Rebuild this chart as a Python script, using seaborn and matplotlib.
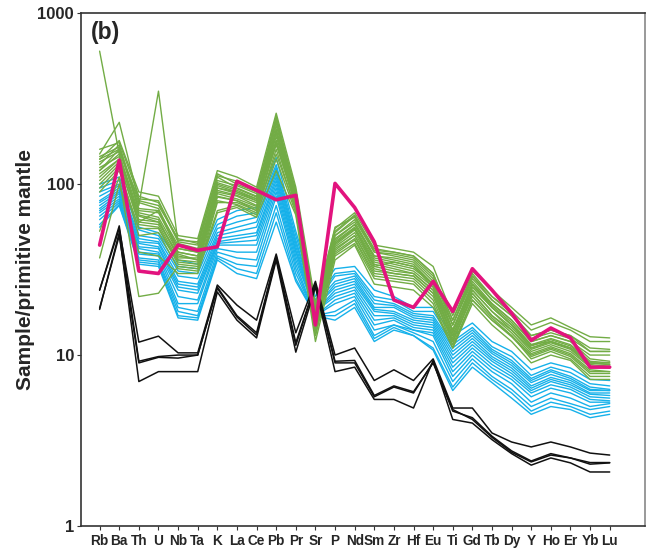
import matplotlib
matplotlib.use("Agg")
import matplotlib.pyplot as plt
import seaborn as sns
import pandas as pd
from matplotlib.ticker import FixedLocator, NullLocator

elements = ["Rb", "Ba", "Th", "U", "Nb", "Ta", "K", "La", "Ce", "Pb", "Pr", "Sr", "P", "Nd",
            "Sm", "Zr", "Hf", "Eu", "Ti", "Gd", "Tb", "Dy", "Y", "Ho", "Er", "Yb", "Lu"]

# blue group samples
blue_samples = [
    [100, 110, 56, 52, 36, 34, 62, 70, 73, 143, 53, 22, 32, 33, 24, 22, 19, 19, 13, 15.4, 12, 10.5, 8.2, 9.0, 8.4, 7.2, 7.1],
    [95, 105, 54, 50, 33, 32, 58, 65, 68, 130, 50, 21, 30, 31, 22, 21, 18, 18, 12, 14.5, 11.2, 9.8, 7.6, 8.5, 7.9, 6.8, 6.6],
    [90, 100, 50, 48, 31, 30, 55, 60, 64, 125, 47, 20, 29, 30, 21, 20, 17.5, 17, 11.5, 14, 10.8, 9.3, 7.3, 8.2, 7.5, 6.5, 6.3],
    [85, 98, 48, 46, 29, 28, 52, 56, 60, 120, 45, 20, 27, 29, 20, 19.5, 17, 16.5, 11, 13.5, 10.5, 9.0, 7.1, 8.0, 7.3, 6.3, 6.2],
    [80, 95, 46, 45, 27, 26, 50, 53, 56, 115, 43, 19, 26, 28, 19, 19, 16.5, 16, 10.5, 13, 10.2, 8.7, 6.9, 7.7, 7.1, 6.2, 6.2],
    [78, 92, 45, 43, 26, 25, 48, 50, 52, 110, 41, 19, 25, 27, 18.5, 18, 16, 15.5, 10, 12.5, 9.8, 8.4, 6.6, 7.4, 6.9, 6.0, 6.0],
    [75, 90, 43, 42, 25, 24, 46, 48, 50, 105, 40, 18, 24, 26, 18, 17.5, 15.5, 15, 9.5, 12, 9.5, 8.1, 6.4, 7.2, 6.7, 5.9, 5.8],
    [72, 88, 42, 40, 24, 23, 45, 46, 47, 100, 38, 18, 23, 25, 17, 17, 15, 14.5, 9.0, 11.5, 9.2, 7.8, 6.2, 7.0, 6.5, 5.7, 5.6],
    [70, 85, 40, 39, 22, 21, 44, 44, 44, 95, 36, 18, 22, 24, 16, 16.5, 14.5, 14, 8.5, 11, 8.8, 7.5, 6.0, 6.7, 6.3, 5.5, 5.4],
    [68, 82, 39, 38, 20, 20, 42, 40, 40, 90, 34, 17, 21, 23, 15, 16, 14, 13.5, 8.0, 10.5, 8.4, 7.2, 5.7, 6.4, 6.0, 5.3, 5.3],
    [65, 80, 37, 36, 19, 18, 40, 37, 36, 85, 32, 17, 20, 22, 14, 15, 14, 13, 7.5, 10, 8.0, 6.8, 5.3, 6.0, 5.6, 5.0, 5.2],
    [62, 78, 36, 35, 18, 17, 38, 34, 33, 75, 30, 17, 18, 21, 13, 15, 13.5, 12, 7.0, 9.5, 7.5, 6.3, 5.0, 5.6, 5.2, 4.8, 5.0],
    [58, 76, 35, 34, 17, 16.5, 37, 32, 30, 68, 28, 17, 17, 20, 12.5, 14.5, 13, 11, 6.5, 9.0, 7.2, 6.0, 4.7, 5.3, 5.0, 4.5, 4.7],
    [56, 75, 34, 33, 16.5, 16, 36, 30, 28, 60, 27, 17, 16, 19, 12, 14, 13, 10.7, 6.2, 8.5, 6.9, 5.6, 4.5, 5.0, 4.8, 4.3, 4.5],
]

# green group samples
green_samples = [
    [600, 150, 60, 70, 40, 38, 95, 90, 80, 180, 80, 18, 45, 55, 33, 35, 33, 25, 14, 25, 19, 15, 11, 12, 11, 9.0, 8.8],
    [120, 160, 75, 350, 45, 42, 110, 95, 85, 200, 82, 17, 50, 60, 38, 36, 34, 26, 15, 27, 20, 16, 12, 13, 12, 9.5, 9.2],
    [140, 180, 90, 85, 50, 48, 120, 110, 96, 260, 96, 20, 55, 68, 44, 42, 40, 33, 17, 31, 24, 19, 15, 16.5, 14.5, 12.8, 12.6],
    [150, 230, 80, 75, 48, 45, 115, 100, 90, 240, 90, 19, 52, 65, 42, 40, 38, 30, 16, 30, 22, 18, 14, 15.5, 14, 12, 12],
    [130, 170, 70, 68, 42, 40, 100, 92, 82, 220, 85, 16, 48, 58, 38, 37, 35, 27, 14, 26, 20, 16, 12, 13, 12, 10, 10],
    [110, 140, 65, 60, 38, 36, 90, 85, 75, 200, 78, 15, 45, 55, 35, 33, 31, 25, 13, 25, 19, 15, 11.5, 12, 11, 9, 9],
    [100, 130, 60, 58, 36, 35, 85, 80, 72, 180, 75, 14, 42, 50, 32, 30, 29, 23, 12, 23, 17, 14, 10.5, 11.5, 10.5, 8.5, 8.5],
    [160, 175, 85, 78, 46, 44, 105, 98, 88, 250, 88, 18, 50, 62, 40, 38, 36, 28, 15, 28, 21, 17, 12.5, 13.5, 12.5, 10.5, 10.5],
    [90, 120, 55, 55, 34, 33, 80, 76, 68, 160, 70, 13, 40, 48, 30, 29, 28, 22, 12, 22, 16.5, 13, 10, 11, 10, 8, 8],
    [140, 160, 72, 70, 44, 40, 98, 90, 82, 210, 84, 17, 46, 56, 36, 34, 32, 26, 14, 26, 19.5, 15.5, 11.5, 12.5, 11.5, 9.2, 9],
    [120, 150, 68, 64, 40, 38, 92, 86, 78, 190, 80, 16, 44, 54, 34, 32, 30, 24, 13, 24, 18, 14.5, 11, 12, 11, 8.8, 8.6],
    [53, 110, 22, 23, 33, 32, 70, 75, 66, 140, 68, 14, 38, 45, 28, 27, 26, 20, 11, 21, 16, 13, 9.5, 10.5, 9.5, 7.5, 7.5],
    [37, 100, 40, 38, 30, 30, 68, 73, 64, 120, 66, 12, 36, 44, 26, 25, 24, 19, 11, 20, 15, 12, 9, 10, 9.3, 7.2, 7.2],
    [145, 165, 78, 72, 42, 40, 102, 94, 84, 230, 86, 19, 56, 64, 40, 39, 37, 29, 16, 29, 21, 17, 13, 14, 13, 11, 10.8],
    [125, 145, 62, 60, 39, 36, 88, 82, 74, 170, 76, 15, 43, 52, 33, 31, 30, 24, 12.5, 24, 18, 14, 10.8, 11.8, 10.8, 8.6, 8.4],
    [105, 135, 58, 56, 35, 34, 84, 80, 70, 175, 74, 14, 41, 50, 31, 30, 29, 23, 12, 23, 17, 13.5, 10.2, 11.2, 10.2, 8.2, 8.0],
    [135, 155, 82, 80, 47, 46, 112, 104, 92, 235, 92, 18, 53, 66, 41, 40, 38, 30, 15, 29, 22, 17.5, 13, 14, 13, 10.5, 10.5],
    [95, 125, 50, 52, 32, 31, 78, 78, 70, 150, 72, 13, 39, 47, 29, 28, 27, 21, 11.5, 21, 16, 12.8, 9.8, 10.8, 9.8, 7.8, 7.8],
    [115, 140, 66, 62, 37, 37, 95, 88, 80, 205, 82, 16, 47, 58, 37, 35, 33, 26, 13.5, 26, 19, 15, 11.3, 12.3, 11.3, 9, 8.8],
]

# black group samples
black_samples = [
    [24, 55, 11.9, 12.9, 10.3, 10.3, 25.7, 19.6, 16, 39, 13.5, 27, 10, 11, 7.1, 8.2, 7.1, 9.5, 4.9, 4.9, 3.5, 3.1, 2.9, 3.1, 2.9, 2.67, 2.6],
    [18.8, 50, 9.0, 9.7, 9.6, 10, 24.6, 16.7, 13.1, 37, 11.4, 26, 9.0, 9.0, 5.7, 6.5, 6.0, 9.1, 4.8, 4.2, 3.3, 2.7, 2.37, 2.6, 2.5, 2.3, 2.34],
    [18.5, 52, 7.0, 8.0, 8.0, 8.0, 23.4, 16, 12.6, 36, 10.4, 25, 8.0, 8.5, 5.5, 5.5, 4.9, 9.3, 4.2, 4.0, 3.2, 2.65, 2.27, 2.5, 2.34, 2.07, 2.07],
    [24, 57, 9.2, 9.8, 10, 10, 25, 17, 13.5, 38, 11.8, 26, 9.2, 9.3, 5.8, 6.6, 6.1, 9.0, 4.7, 4.3, 3.35, 2.75, 2.4, 2.65, 2.5, 2.35, 2.35],
]

# highlighted sample
pink_sample = [44, 138, 31, 30, 44, 41, 43, 104, 92, 81, 86, 15, 101, 73, 46, 21, 19, 27, 18, 32, 24, 17.6, 12.2, 14.4, 12.6, 8.5, 8.5]


def to_long(samples, name):
    rows = []
    for s, vals in enumerate(samples):
        for i, v in enumerate(vals):
            rows.append({"sample": f"{name}{s}", "pos": i, "value": v})
    return pd.DataFrame(rows)


sns.set_style("ticks")
plt.rcParams["font.family"] = ["Liberation Sans", "DejaVu Sans"]

fig = plt.figure(figsize=(6.51, 5.51), dpi=100)
ax = fig.add_axes([0.1244, 0.0454, 0.8664, 0.9306])

groups = [
    (blue_samples, "b", "#16B1EA", 1.0),
    (green_samples, "g", "#72AC45", 1.0),
    (black_samples, "k", "#111111", 1.1),
]
for samples, name, color, lw in groups:
    sns.lineplot(data=to_long(samples, name), x="pos", y="value", units="sample",
                 estimator=None, color=color, linewidth=lw, ax=ax, legend=False)

sns.lineplot(x=list(range(len(elements))), y=pink_sample, color="#E2137E",
             linewidth=2.6, ax=ax, legend=False)

ax.set_yscale("log")
ax.set_ylim(1, 1000)
ax.set_xlim(-0.95, 27.8)
ax.yaxis.set_major_locator(FixedLocator([1, 10, 100, 1000]))
ax.yaxis.set_minor_locator(NullLocator())
ax.set_yticklabels(["1", "10", "100", "1000"], fontsize=12, fontweight="bold")
ax.set_xticks(range(len(elements)))
ax.set_xticklabels(elements, fontsize=9.8, fontweight="bold")
ax.tick_params(axis="both", direction="out", length=3, width=0.8, color="#333333", pad=2)
ax.tick_params(axis="x", pad=3)
ax.set_xlabel("")
ax.set_ylabel("Sample/primitive mantle", fontsize=15, fontweight="bold", labelpad=2)

for side in ["left", "bottom", "top"]:
    ax.spines[side].set_color("#333333")
    ax.spines[side].set_linewidth(1.2)
ax.spines["right"].set_color("#888888")
ax.spines["right"].set_linewidth(1.2)

ax.text(0.018, 0.985, "(b)", transform=ax.transAxes, fontsize=16.5, fontweight="bold",
        ha="left", va="top")

fig.savefig("out.png", dpi=100)
